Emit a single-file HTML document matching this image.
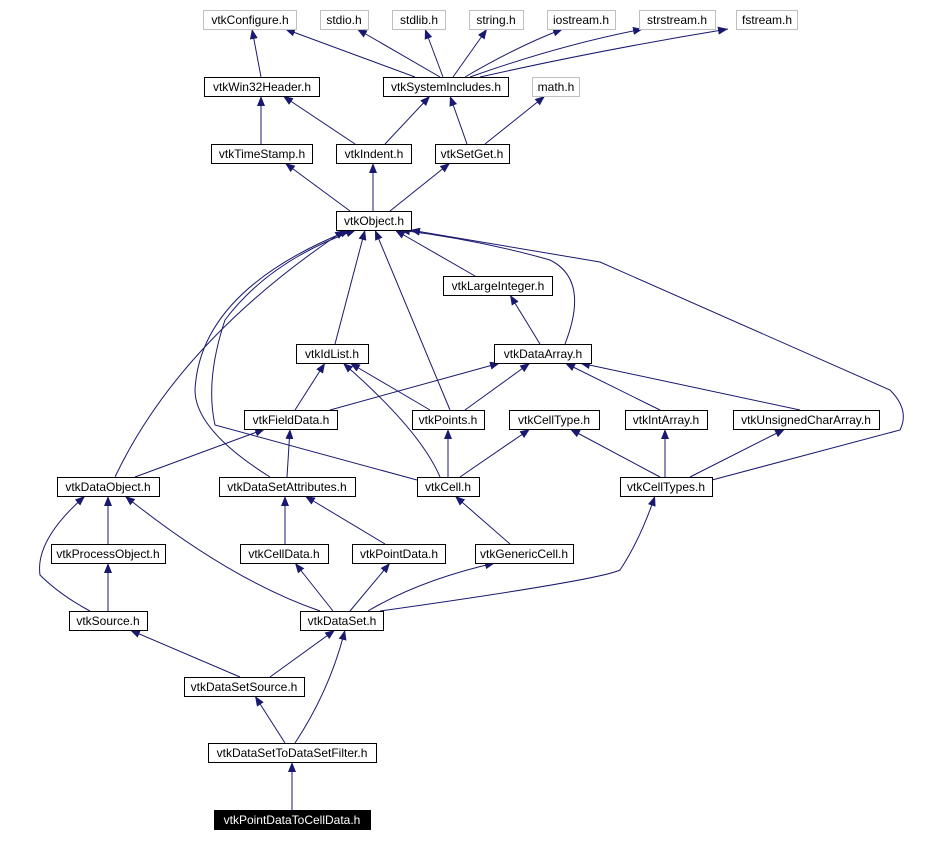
<!DOCTYPE html>
<html><head><meta charset="utf-8"><style>
body{margin:0;background:#fff;width:950px;height:842px;overflow:hidden}
svg{display:block}
text{font-family:"Liberation Sans",sans-serif;font-size:12px}
</style></head><body>
<svg width="950" height="842" viewBox="0 0 950 842">
<defs><marker id="a" viewBox="0 0 10 10" refX="10" refY="5" markerWidth="10" markerHeight="10" markerUnits="userSpaceOnUse" orient="auto"><path d="M0,1 L10,5 L0,9 z" fill="#191970"/></marker></defs>
<g fill="none" stroke="#191970" stroke-width="1" marker-end="url(#a)">
<path d="M261,77 L252,29"/>
<path d="M415,77 L285,29"/>
<path d="M440,77 L357,29"/>
<path d="M443,77 L425,29"/>
<path d="M453,77 L487,29"/>
<path d="M465,77 Q520,45 563,29"/>
<path d="M470,77 Q560,45 643,29"/>
<path d="M480,77 Q600,50 728,29"/>
<path d="M261,144 L261,96"/>
<path d="M355,144 L283,96"/>
<path d="M385,144 L430,96"/>
<path d="M467,144 L450,96"/>
<path d="M485,144 L545,96"/>
<path d="M350,211 L285,163"/>
<path d="M373,211 L373,163"/>
<path d="M390,211 L450,163"/>
<path d="M475,276 L395,230"/>
<path d="M540,344 L510,295"/>
<path d="M565,344 Q590,280 550,260 Q480,240 400,230"/>
<path d="M335,344 L365,230"/>
<path d="M450,410 L375,230"/>
<path d="M712,480 L900,430 Q910,410 890,390 L600,262 L410,230"/>
<path d="M115,477 Q180,340 345,230"/>
<path d="M270,477 Q195,430 195,390 Q200,290 350,230"/>
<path d="M417,480 L215,425 Q205,380 225,320 Q270,260 356,230"/>
<path d="M295,410 L325,363"/>
<path d="M330,410 L500,363"/>
<path d="M430,410 L350,363"/>
<path d="M465,410 L530,363"/>
<path d="M440,477 Q420,430 343,363"/>
<path d="M448,477 L448,429"/>
<path d="M460,477 L530,429"/>
<path d="M660,410 L565,363"/>
<path d="M800,410 L580,363"/>
<path d="M660,477 L570,429"/>
<path d="M665,477 L665,429"/>
<path d="M690,477 L785,429"/>
<path d="M135,477 L265,429"/>
<path d="M287,477 L290,429"/>
<path d="M108,544 L108,496"/>
<path d="M285,544 L285,496"/>
<path d="M385,544 L305,496"/>
<path d="M510,544 L455,496"/>
<path d="M90,611 Q60,595 40,575 Q35,540 85,496"/>
<path d="M108,611 L108,563"/>
<path d="M320,611 Q230,580 125,496"/>
<path d="M333,611 L295,563"/>
<path d="M350,611 L390,563"/>
<path d="M368,611 Q420,580 495,563"/>
<path d="M380,611 Q600,580 620,570 Q640,540 655,496"/>
<path d="M240,677 L130,630"/>
<path d="M270,677 L335,630"/>
<path d="M285,743 L255,696"/>
<path d="M295,743 Q330,690 345,630"/>
<path d="M292,810 L292,762"/>
</g>
<g stroke-width="1" font-size="12">
<g fill="#fff" stroke="#bfbfbf">
<rect x="203.5" y="10.5" width="93" height="19"/><rect x="320.5" y="10.5" width="48" height="19"/><rect x="392.5" y="10.5" width="53" height="19"/><rect x="469.5" y="10.5" width="54" height="19"/><rect x="547.5" y="10.5" width="68" height="19"/><rect x="639.5" y="10.5" width="76" height="19"/><rect x="736.5" y="10.5" width="61" height="19"/><rect x="532.5" y="77.5" width="47" height="19"/>
</g>
<g fill="#fff" stroke="#000">
<rect x="204.5" y="77.5" width="115" height="19"/><rect x="383.5" y="77.5" width="125" height="19"/>
<rect x="211.5" y="144.5" width="101" height="19"/><rect x="336.5" y="144.5" width="75" height="19"/><rect x="435.5" y="144.5" width="74" height="19"/>
<rect x="336.5" y="211.5" width="75" height="19"/><rect x="443.5" y="276.5" width="109" height="19"/>
<rect x="296.5" y="344.5" width="72" height="19"/><rect x="494.5" y="344.5" width="97" height="19"/>
<rect x="244.5" y="410.5" width="93" height="19"/><rect x="412.5" y="410.5" width="72" height="19"/><rect x="509.5" y="410.5" width="90" height="19"/><rect x="625.5" y="410.5" width="82" height="19"/><rect x="733.5" y="410.5" width="146" height="19"/>
<rect x="57.5" y="477.5" width="102" height="19"/><rect x="219.5" y="477.5" width="136" height="19"/><rect x="417.5" y="477.5" width="62" height="19"/><rect x="620.5" y="477.5" width="92" height="19"/>
<rect x="51.5" y="544.5" width="114" height="19"/><rect x="240.5" y="544.5" width="88" height="19"/><rect x="352.5" y="544.5" width="93" height="19"/><rect x="475.5" y="544.5" width="98" height="19"/>
<rect x="69.5" y="611.5" width="78" height="19"/><rect x="300.5" y="611.5" width="83" height="19"/>
<rect x="184.5" y="677.5" width="120" height="19"/><rect x="208.5" y="743.5" width="168" height="19"/>
<rect x="214.5" y="810.5" width="156" height="19" fill="#000"/>
</g>
<g fill="#000" text-anchor="middle" stroke="none">
<text x="250" y="24">vtkConfigure.h</text><text x="344" y="24">stdio.h</text><text x="419" y="24">stdlib.h</text><text x="496" y="24">string.h</text><text x="581" y="24">iostream.h</text><text x="677" y="24">strstream.h</text><text x="767" y="24">fstream.h</text><text x="556" y="91">math.h</text>
<text x="262" y="91">vtkWin32Header.h</text><text x="446" y="91">vtkSystemIncludes.h</text>
<text x="262" y="158">vtkTimeStamp.h</text><text x="374" y="158">vtkIndent.h</text><text x="472" y="158">vtkSetGet.h</text>
<text x="374" y="225">vtkObject.h</text><text x="498" y="290">vtkLargeInteger.h</text>
<text x="332" y="358">vtkIdList.h</text><text x="543" y="358">vtkDataArray.h</text>
<text x="291" y="424">vtkFieldData.h</text><text x="448" y="424">vtkPoints.h</text><text x="554" y="424">vtkCellType.h</text><text x="666" y="424">vtkIntArray.h</text><text x="806" y="424">vtkUnsignedCharArray.h</text>
<text x="108" y="491">vtkDataObject.h</text><text x="287" y="491">vtkDataSetAttributes.h</text><text x="448" y="491">vtkCell.h</text><text x="666" y="491">vtkCellTypes.h</text>
<text x="108" y="558">vtkProcessObject.h</text><text x="284" y="558">vtkCellData.h</text><text x="399" y="558">vtkPointData.h</text><text x="524" y="558">vtkGenericCell.h</text>
<text x="108" y="625">vtkSource.h</text><text x="342" y="625">vtkDataSet.h</text>
<text x="244" y="691">vtkDataSetSource.h</text><text x="292" y="757">vtkDataSetToDataSetFilter.h</text>
<text x="292" y="824" fill="#fff">vtkPointDataToCellData.h</text>
</g></g>
</svg>
</body></html>
